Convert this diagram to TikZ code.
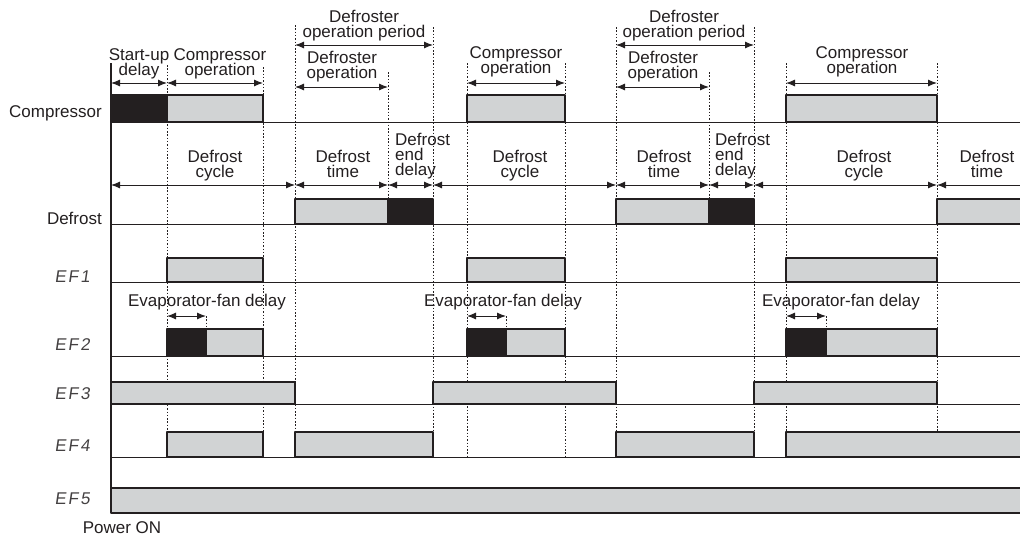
\documentclass[tikz,border=0pt]{standalone}
\usepackage{fontspec}
\setmainfont{Liberation Sans}
\newfontfamily\segfont[FakeSlant=0.15,LetterSpace=12]{Liberation Sans}
\usetikzlibrary{arrows.meta}
\definecolor{ink}{HTML}{231F20}
\definecolor{bargray}{HTML}{D1D3D4}
\newcommand\timingfont{\fontsize{17}{15}\selectfont\lineskiplimit=-20pt\relax}
\tikzset
{
  on bar/.style={draw=ink,fill=bargray,line width=2.6pt},
  delay bar/.style={draw=ink,fill=ink,line width=2.6pt},
  base line/.style={draw=ink,line width=0.9pt},
  mark line/.style={draw=ink,line width=1pt,dash pattern=on 1.5pt off 1.8pt},
  time span/.style={draw=ink,line width=1pt,>={Latex[length=9pt,width=7pt]}},
  lbl/.style={font=\timingfont,text=ink,align=center,inner sep=0pt,anchor=base},
  lbl left/.style={lbl,align=left,anchor=base west},
  row name/.style={font=\timingfont,text=ink,inner sep=0pt,anchor=base east},
  ef name/.style={font=\segfont\fontsize{17}{17}\selectfont,text=ink!85,inner sep=0pt,anchor=east}
}

\begin{document}
\begin{tikzpicture}[x=1pt,y=-1pt,line join=round]
  \useasboundingbox (0,0) rectangle (1020,538);
  % time marks
  \foreach \n/\x in {0/111,1/167,2/263,3/295,4/388,5/433,6/467,7/565,8/616,9/709,10/754,11/786,12/937,13/1030}
    \coordinate (t\n) at (\x,0);
  \coordinate (f1) at (206,0);
  \coordinate (f2) at (506,0);
  \coordinate (f3) at (826,0);
  % arrow levels
  \coordinate (period) at (0,45);
  \coordinate (upper) at (0,83);
  \coordinate (defop) at (0,87);
  \coordinate (cycle) at (0,185);
  \coordinate (fan) at (0,316);
  % dotted marks
  \foreach \x/\top in {167/65,263/67,295/25,433/27,467/63,565/63,616/27,754/27,786/63,937/63}
    \draw[mark line] (\x,\top) -- (\x,457);
  \foreach \x in {388,709}
    \draw[mark line] (\x,72) -- (\x,199);
  \foreach \x in {206,506,826}
    \draw[mark line] (\x,316) -- (\x,329);
  % row base lines and axis
  \foreach \y in {122,224,282,356,404,457}
    \draw[base line] (111,\y) -- (1030,\y);
  \draw[draw=ink,line width=1.4pt] (111,63) -- (111,513);
  % compressor
  \draw[delay bar] (111,95) rectangle (167,122);
  \foreach \a/\b in {167/263,467/565,786/937}
    \draw[on bar] (\a,95) rectangle (\b,122);
  % defrost
  \foreach \a/\b in {295/388,616/709,937/1030}
    \draw[on bar] (\a,199) rectangle (\b,224);
  \foreach \a/\b in {388/433,709/754}
    \draw[delay bar] (\a,199) rectangle (\b,224);
  % EF1
  \foreach \a/\b in {167/263,467/565,786/937}
    \draw[on bar] (\a,258) rectangle (\b,282);
  % EF2
  \foreach \a/\m/\b in {167/206/263,467/506/565,786/826/937}
  {
    \draw[on bar] (\m,329) rectangle (\b,356);
    \draw[delay bar] (\a,329) rectangle (\m,356);
  }
  % EF3
  \foreach \a/\b in {111/295,433/616,754/937}
    \draw[on bar] (\a,382) rectangle (\b,404);
  % EF4
  \foreach \a/\b in {167/263,295/433,616/754,786/1030}
    \draw[on bar] (\a,432) rectangle (\b,457);
  % EF5
  \draw[on bar] (111,488) rectangle (1030,513);
  % time spans
  \draw[time span,<->] (t0 |- upper) -- (t1 |- upper);
  \draw[time span,<->] (t1 |- upper) -- (t2 |- upper);
  \draw[time span,<->] (t6 |- upper) -- (t7 |- upper);
  \draw[time span,<->] (t11 |- upper) -- (t12 |- upper);
  \draw[time span,<->] (t3 |- period) -- (t5 |- period);
  \draw[time span,<->] (t8 |- period) -- (t10 |- period);
  \draw[time span,<->] (t3 |- defop) -- (t4 |- defop);
  \draw[time span,<->] (t8 |- defop) -- (t9 |- defop);
  \foreach \a/\b in {0/3,3/4,4/5,5/8,8/9,9/10,10/12}
    \draw[time span,<->] (t\a |- cycle) -- (t\b |- cycle);
  \draw[time span,<-] (t12 |- cycle) -- (t13 |- cycle);
  \draw[time span,<->] (t1 |- fan) -- (f1 |- fan);
  \draw[time span,<->] (t6 |- fan) -- (f2 |- fan);
  \draw[time span,<->] (t11 |- fan) -- (f3 |- fan);
  % span labels (base = last line)
  \node[lbl] (startup) at (139,75) {Start-up\\delay};
  \node[lbl] (compop1) at (220,75) {Compressor\\operation};
  \node[lbl] (compop2) at (516,73) {Compressor\\operation};
  \node[lbl] (compop3) at (862,73) {Compressor\\operation};
  \node[lbl] (period1) at (364,37) {Defroster\\operation period};
  \node[lbl] (period2) at (684,37) {Defroster\\operation period};
  \node[lbl] (defop1) at (342,78) {Defroster\\operation};
  \node[lbl] (defop2) at (663,78) {Defroster\\operation};
  \node[lbl] (cycle1) at (215,177) {Defrost\\cycle};
  \node[lbl] (cycle2) at (520,177) {Defrost\\cycle};
  \node[lbl] (cycle3) at (864,177) {Defrost\\cycle};
  \node[lbl] (dtime1) at (343,177) {Defrost\\time};
  \node[lbl] (dtime2) at (664,177) {Defrost\\time};
  \node[lbl] (dtime3) at (987,177) {Defrost\\time};
  \node[lbl left] (enddelay1) at (395,175) {Defrost\\end\\delay};
  \node[lbl left] (enddelay2) at (715,175) {Defrost\\end\\delay};
  \node[lbl] (fandelay1) at (207,306) {Evaporator-fan delay};
  \node[lbl] (fandelay2) at (503,306) {Evaporator-fan delay};
  \node[lbl] (fandelay3) at (841,306) {Evaporator-fan delay};
  % row names
  \node[row name] (compressor) at (102,117) {Compressor};
  \node[row name] (defrost) at (102,224) {Defrost};
  \node[ef name] (ef1) at (90,277) {EF1};
  \node[ef name] (ef2) at (90,345) {EF2};
  \node[ef name] (ef3) at (90,394) {EF3};
  \node[ef name] (ef4) at (90,446) {EF4};
  \node[ef name] (ef5) at (90,499) {EF5};
  \node[lbl] (poweron) at (122,533) {Power ON};
\end{tikzpicture}
\end{document}
